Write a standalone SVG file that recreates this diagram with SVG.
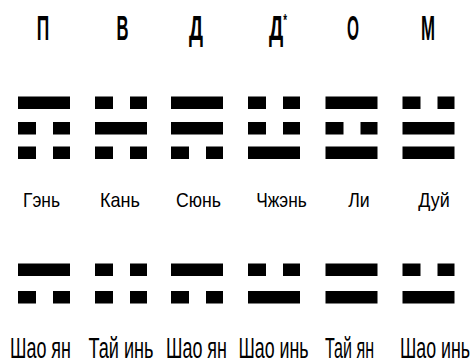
<svg xmlns="http://www.w3.org/2000/svg" xmlns:xlink="http://www.w3.org/1999/xlink" width="472" height="362" viewBox="0 0 472 362">
<style>
.t{font-family:"Liberation Sans",Arial,sans-serif;font-weight:bold;font-size:35px;fill:#000;text-anchor:middle}
.n{font-family:"Liberation Sans",Arial,sans-serif;font-size:21px;fill:#000;text-anchor:middle}
.m{font-family:"Liberation Sans",Arial,sans-serif;font-size:29px;fill:#000;text-anchor:middle}
</style>
<defs>
<g id="yang"><rect x="0" y="0" width="52" height="12.5" fill="#000"/></g>
<g id="yin"><rect x="0" y="0" width="18" height="12.5" fill="#000"/><rect x="35" y="0" width="17" height="12.5" fill="#000"/></g>
</defs>
<rect width="472" height="362" fill="#fff"/>
<g id="connectors"/>
<g id="col1">
<text class="t" x="43" y="40" textLength="12.5" lengthAdjust="spacingAndGlyphs">П</text>
<use xlink:href="#yang" x="18" y="96.5"/><use xlink:href="#yin" x="18" y="122"/><use xlink:href="#yin" x="18" y="146.5"/>
<text class="n" x="41.5" y="206.5" textLength="37" lengthAdjust="spacingAndGlyphs">Гэнь</text>
<use xlink:href="#yang" x="18" y="263.5"/><use xlink:href="#yin" x="18" y="291"/>
<text class="m" x="40.5" y="358" textLength="61" lengthAdjust="spacingAndGlyphs">Шао ян</text>
</g>
<g id="col2">
<text class="t" x="122.5" y="40" textLength="12" lengthAdjust="spacingAndGlyphs">В</text>
<use xlink:href="#yin" x="95" y="96.5"/><use xlink:href="#yang" x="95" y="122"/><use xlink:href="#yin" x="95" y="146.5"/>
<text class="n" x="120" y="206.5" textLength="40" lengthAdjust="spacingAndGlyphs">Кань</text>
<use xlink:href="#yin" x="95" y="263.5"/><use xlink:href="#yin" x="95" y="291"/>
<text class="m" x="121" y="358" textLength="65" lengthAdjust="spacingAndGlyphs">Тай инь</text>
</g>
<g id="col3">
<text class="t" x="196" y="40" textLength="14" lengthAdjust="spacingAndGlyphs">Д</text>
<use xlink:href="#yang" x="171" y="96.5"/><use xlink:href="#yang" x="171" y="122"/><use xlink:href="#yin" x="171" y="146.5"/>
<text class="n" x="198.5" y="206.5" textLength="45" lengthAdjust="spacingAndGlyphs">Сюнь</text>
<use xlink:href="#yang" x="171" y="263.5"/><use xlink:href="#yin" x="171" y="291"/>
<text class="m" x="196.5" y="358" textLength="61" lengthAdjust="spacingAndGlyphs">Шао ян</text>
</g>
<g id="col4">
<text class="t" x="278" y="40" textLength="18" lengthAdjust="spacingAndGlyphs">Д<tspan font-size="17" dy="-14">*</tspan></text>
<use xlink:href="#yin" x="248" y="96.5"/><use xlink:href="#yin" x="248" y="122"/><use xlink:href="#yang" x="248" y="146.5"/>
<text class="n" x="281.5" y="206.5" textLength="50.5" lengthAdjust="spacingAndGlyphs">Чжэнь</text>
<use xlink:href="#yin" x="248" y="263.5"/><use xlink:href="#yang" x="248" y="291"/>
<text class="m" x="273.5" y="358" textLength="70" lengthAdjust="spacingAndGlyphs">Шао инь</text>
</g>
<g id="col5">
<text class="t" x="353" y="40" textLength="12" lengthAdjust="spacingAndGlyphs">О</text>
<use xlink:href="#yang" x="325.5" y="96.5"/><use xlink:href="#yin" x="325.5" y="122"/><use xlink:href="#yang" x="325.5" y="146.5"/>
<text class="n" x="359" y="206.5" textLength="21.5" lengthAdjust="spacingAndGlyphs">Ли</text>
<use xlink:href="#yang" x="325.5" y="263.5"/><use xlink:href="#yang" x="325.5" y="291"/>
<text class="m" x="349.5" y="358" textLength="49" lengthAdjust="spacingAndGlyphs">Тай ян</text>
</g>
<g id="col6">
<text class="t" x="428" y="40" textLength="14" lengthAdjust="spacingAndGlyphs">М</text>
<use xlink:href="#yin" x="402.5" y="96.5"/><use xlink:href="#yang" x="402.5" y="122"/><use xlink:href="#yang" x="402.5" y="146.5"/>
<text class="n" x="434" y="206.5" textLength="31.5" lengthAdjust="spacingAndGlyphs">Дуй</text>
<use xlink:href="#yin" x="402.5" y="263.5"/><use xlink:href="#yang" x="402.5" y="291"/>
<text class="m" x="435" y="358" textLength="70" lengthAdjust="spacingAndGlyphs">Шао инь</text>
</g>
</svg>
